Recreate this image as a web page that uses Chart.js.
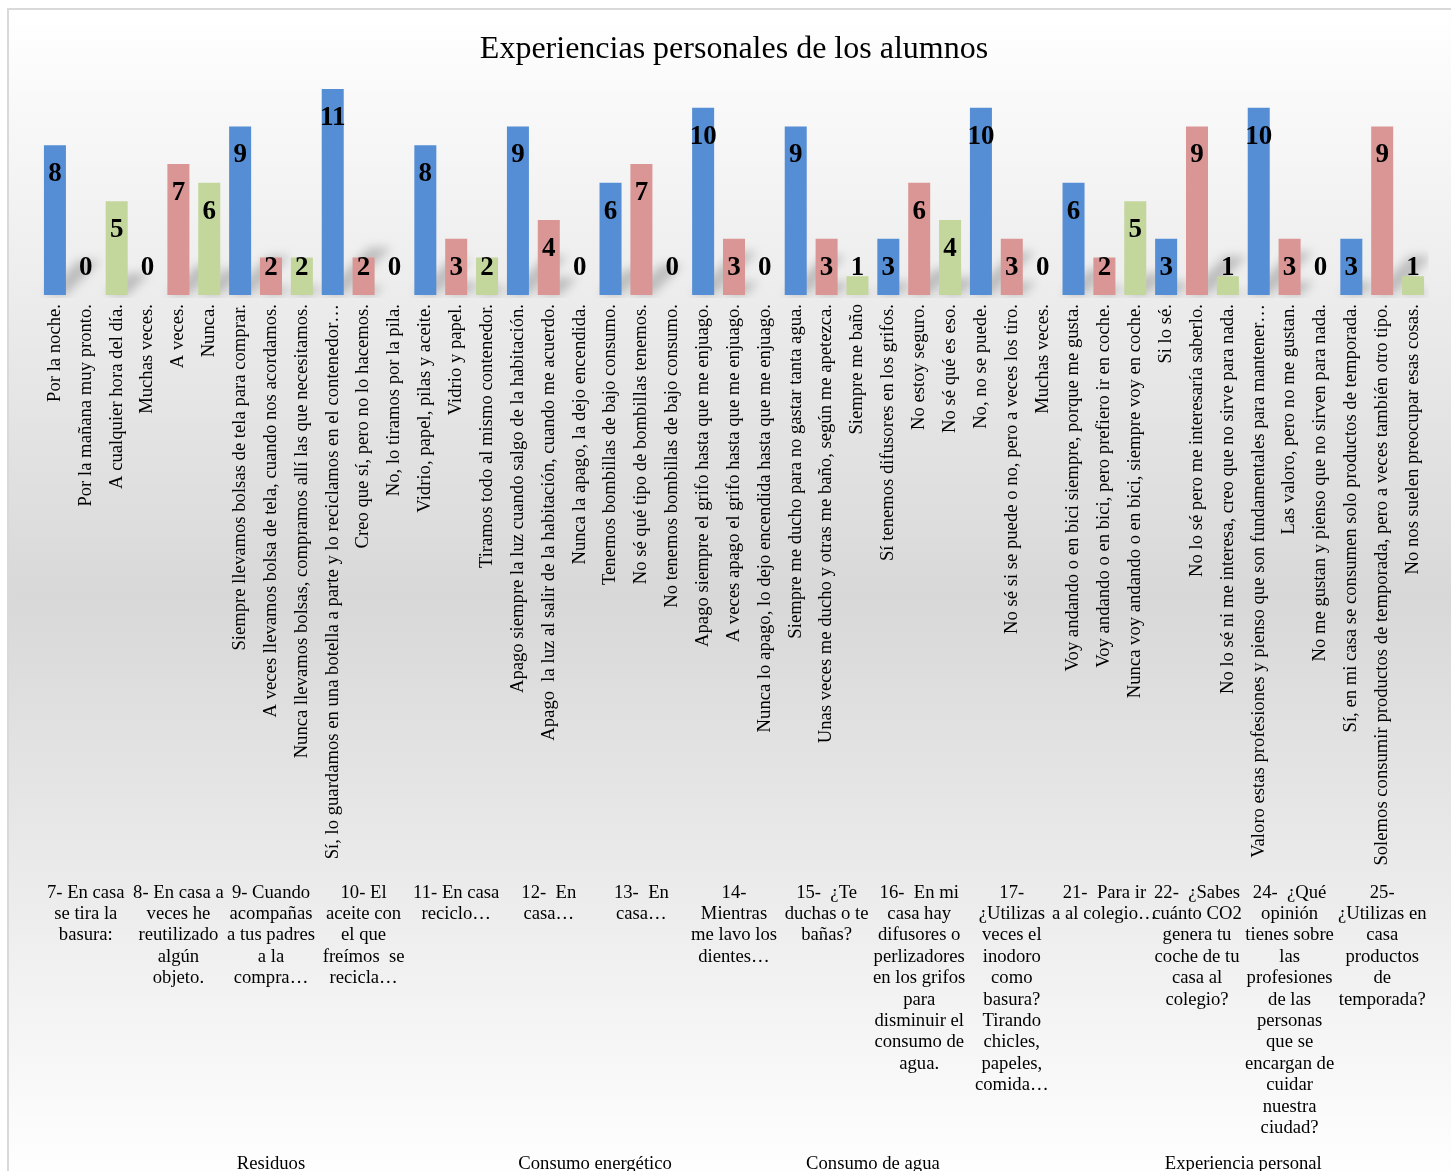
<!DOCTYPE html>
<html lang="es">
<head>
<meta charset="utf-8">
<title>Experiencias personales de los alumnos</title>
<script src="https://cdn.jsdelivr.net/npm/chart.js@4.4.1/dist/chart.umd.min.js"></script>
<style>
  html, body { margin: 0; padding: 0; background: #ffffff; overflow: hidden; }
  #wrap { position: absolute; left: 0; top: 0; width: 1466px; height: 1185px; }
  canvas { display: block; }
</style>
</head>
<body>
<div id="wrap"><canvas id="chart" width="1466" height="1185"></canvas></div>
<script>
// Survey answers (one bar per answer), in question order
const answers = [
  "Por la noche.",
  "Por la mañana muy pronto.",
  "A cualquier hora del día.",
  "Muchas veces.",
  "A veces.",
  "Nunca.",
  "Siempre llevamos bolsas de tela para comprar.",
  "A veces llevamos bolsa de tela, cuando nos acordamos.",
  "Nunca llevamos bolsas, compramos allí las que necesitamos.",
  "Sí, lo guardamos en una botella a parte y lo reciclamos en el contenedor…",
  "Creo que sí, pero no lo hacemos.",
  "No, lo tiramos por la pila.",
  "Vidrio, papel, pilas y aceite.",
  "Vidrio y papel.",
  "Tiramos todo al mismo contenedor.",
  "Apago siempre la luz cuando salgo de la habitación.",
  "Apago  la luz al salir de la habitación, cuando me acuerdo.",
  "Nunca la apago, la dejo encendida.",
  "Tenemos bombillas de bajo consumo.",
  "No sé qué tipo de bombillas tenemos.",
  "No tenemos bombillas de bajo consumo.",
  "Apago siempre el grifo hasta que me enjuago.",
  "A veces apago el grifo hasta que me enjuago.",
  "Nunca lo apago, lo dejo encendida hasta que me enjuago.",
  "Siempre me ducho para no gastar tanta agua.",
  "Unas veces me ducho y otras me baño, según me apetezca.",
  "Siempre me baño",
  "Sí tenemos difusores en los grifos.",
  "No estoy seguro.",
  "No sé qué es eso.",
  "No, no se puede.",
  "No sé si se puede o no, pero a veces los tiro.",
  "Muchas veces.",
  "Voy andando o en bici siempre, porque me gusta.",
  "Voy andando o en bici, pero prefiero ir en coche.",
  "Nunca voy andando o en bici, siempre voy en coche.",
  "Si lo sé.",
  "No lo sé pero me interesaría saberlo.",
  "No lo sé ni me interesa, creo que no sirve para nada.",
  "Valoro estas profesiones y pienso que son fundamentales para mantener…",
  "Las valoro, pero no me gustan.",
  "No me gustan y pienso que no sirven para nada.",
  "Sí, en mi casa se consumen solo productos de temporada.",
  "Solemos consumir productos de temporada, pero a veces también otro tipo.",
  "No nos suelen preocupar esas cosas."
];

// Number of students choosing each answer
const counts = [
  8, 0, 5,
  0, 7, 6,
  9, 2, 2,
  11, 2, 0,
  8, 3, 2,
  9, 4, 0,
  6, 7, 0,
  10, 3, 0,
  9, 3, 1,
  3, 6, 4,
  10, 3, 0,
  6, 2, 5,
  3, 9, 1,
  10, 3, 0,
  3, 9, 1
];

// Question texts, wrapped as they appear under each group of answers
const questions = [
  ["7- En casa", "se tira la", "basura:"],
  ["8- En casa a", "veces he", "reutilizado", "algún", "objeto."],
  ["9- Cuando", "acompañas", "a tus padres", "a la", "compra…"],
  ["10- El", "aceite con", "el que", "freímos  se", "recicla…"],
  ["11- En casa", "reciclo…"],
  ["12-  En", "casa…"],
  ["13-  En", "casa…"],
  ["14-", "Mientras", "me lavo los", "dientes…"],
  ["15-  ¿Te", "duchas o te", "bañas?"],
  ["16-  En mi", "casa hay", "difusores o", "perlizadores", "en los grifos", "para", "disminuir el", "consumo de", "agua."],
  ["17-", "¿Utilizas", "veces el", "inodoro", "como", "basura?", "Tirando", "chicles,", "papeles,", "comida…"],
  ["21-  Para ir", "a al colegio…"],
  ["22-  ¿Sabes", "cuánto CO2", "genera tu", "coche de tu", "casa al", "colegio?"],
  ["24-  ¿Qué", "opinión", "tienes sobre", "las", "profesiones", "de las", "personas", "que se", "encargan de", "cuidar", "nuestra", "ciudad?"],
  ["25-", "¿Utilizas en", "casa", "productos", "de", "temporada?"]
];

// Thematic blocks and how many questions each one holds
const groups = ["Residuos", "Consumo energético", "Consumo de agua", "Experiencia personal"];
const questionsPerGroup = [5, 2, 4, 4];
const answersPerQuestion = 3;

const answerColors = ["#558ED5", "#D99694", "#C3D69B"];
const serif = "'Liberation Serif', 'Times New Roman', Times, serif";

// Category-index centres of each question and each block
const questionCenters = questions.map((_, q) => q * answersPerQuestion + (answersPerQuestion - 1) / 2);
const groupCenters = [];
{
  let start = 0;
  questionsPerGroup.forEach(n => {
    const len = n * answersPerQuestion;
    groupCenters.push(start + (len - 1) / 2);
    start += len;
  });
}

// Soft vertical wash behind the whole chart, plus its frame
const backdrop = {
  id: 'backdrop',
  beforeDraw(chart) {
    const { ctx, width, height } = chart;
    const g = ctx.createLinearGradient(0, 10, 0, height);
    g.addColorStop(0, '#ffffff');
    g.addColorStop(0.5, '#d8d8d8');
    g.addColorStop(1, '#ffffff');
    ctx.save();
    ctx.fillStyle = g;
    ctx.fillRect(9, 10, width, height);
    ctx.strokeStyle = '#d9d9d9';
    ctx.lineWidth = 2;
    ctx.strokeRect(8, 9, width + 20, height + 20);
    ctx.restore();
  }
};

// Perspective shadow cast up and to the right from each bar's foot
const floorShadow = {
  id: 'floorShadow',
  beforeDatasetsDraw(chart) {
    const { ctx, chartArea } = chart;
    const meta = chart.getDatasetMeta(0);
    ctx.save();
    ctx.beginPath();
    ctx.rect(chartArea.left, chartArea.top, chartArea.right - chartArea.left, chartArea.bottom - chartArea.top + 3);
    ctx.clip();
    ctx.filter = 'blur(5px)';
    ctx.fillStyle = 'rgba(0,0,0,0.2)';
    meta.data.forEach(bar => {
      const { x, y, base, width } = bar.getProps(['x', 'y', 'base', 'width'], true);
      const h = base - y;
      if (h <= 0) return;
      const d = h * 0.23;
      ctx.beginPath();
      ctx.moveTo(x - width / 2, base);
      ctx.lineTo(x + width / 2, base);
      ctx.lineTo(x + width / 2 + d, base - d);
      ctx.lineTo(x - width / 2 + d, base - d);
      ctx.closePath();
      ctx.fill();
    });
    ctx.restore();
  }
};

// Bold value printed inside the top of each bar (kept above the baseline)
const valueLabels = {
  id: 'valueLabels',
  afterDatasetsDraw(chart) {
    const { ctx } = chart;
    const meta = chart.getDatasetMeta(0);
    const data = chart.data.datasets[0].data;
    ctx.save();
    ctx.font = 'bold 27px ' + serif;
    ctx.fillStyle = '#000000';
    ctx.textAlign = 'center';
    ctx.textBaseline = 'middle';
    meta.data.forEach((bar, i) => {
      const cy = Math.min(bar.y + 29, bar.base - 27);
      ctx.fillText(String(data[i]), bar.x, cy);
    });
    ctx.restore();
  }
};

const plainAxis = {
  grid: { display: false, drawTicks: false },
  border: { display: false }
};

new Chart(document.getElementById('chart'), {
  type: 'bar',
  data: {
    labels: answers,
    datasets: [{
      data: counts,
      backgroundColor: answers.map((_, i) => answerColors[i % answersPerQuestion]),
      borderWidth: 0,
      barPercentage: 0.713,
      categoryPercentage: 1
    }]
  },
  options: {
    responsive: false,
    animation: false,
    devicePixelRatio: 1,
    layout: { padding: { left: 39.5, right: 37.5, top: 0, bottom: 0 } },
    plugins: {
      legend: { display: false },
      tooltip: { enabled: false },
      title: {
        display: true,
        text: 'Experiencias personales de los alumnos',
        color: '#000000',
        font: { family: serif, size: 32, weight: 'normal', lineHeight: 1.2 },
        padding: { top: 30, bottom: 20.6 }
      }
    },
    scales: {
      y: { display: false, min: 0, max: 11 },
      x: {
        ...plainAxis,
        position: 'bottom',
        weight: 0,
        ticks: {
          autoSkip: false,
          minRotation: 90,
          maxRotation: 90,
          padding: 9,
          color: '#000000',
          font: { family: serif, size: 18.67 }
        },
        afterFit(scale) { scale.height = 585; }
      },
      xQuestion: {
        ...plainAxis,
        type: 'linear',
        position: 'bottom',
        weight: 1,
        offset: false,
        bounds: 'data',
        min: -0.5,
        max: answers.length - 0.5,
        ticks: {
          autoSkip: false,
          minRotation: 0,
          maxRotation: 0,
          padding: 2,
          color: '#000000',
          font: { family: serif, size: 18.67, lineHeight: '21.4px' },
          callback: (value, index) => questions[index]
        },
        afterBuildTicks(scale) { scale.ticks = questionCenters.map(value => ({ value })); },
        afterFit(scale) { scale.height = 270; }
      },
      xGroup: {
        ...plainAxis,
        type: 'linear',
        position: 'bottom',
        weight: 2,
        offset: false,
        bounds: 'data',
        min: -0.5,
        max: answers.length - 0.5,
        ticks: {
          autoSkip: false,
          minRotation: 0,
          maxRotation: 0,
          padding: 3,
          color: '#000000',
          font: { family: serif, size: 18.67, lineHeight: '21.4px' },
          callback: (value, index) => groups[index]
        },
        afterBuildTicks(scale) { scale.ticks = groupCenters.map(value => ({ value })); },
        afterFit(scale) { scale.height = 35; }
      }
    }
  },
  plugins: [backdrop, floorShadow, valueLabels]
});
</script>
</body>
</html>
